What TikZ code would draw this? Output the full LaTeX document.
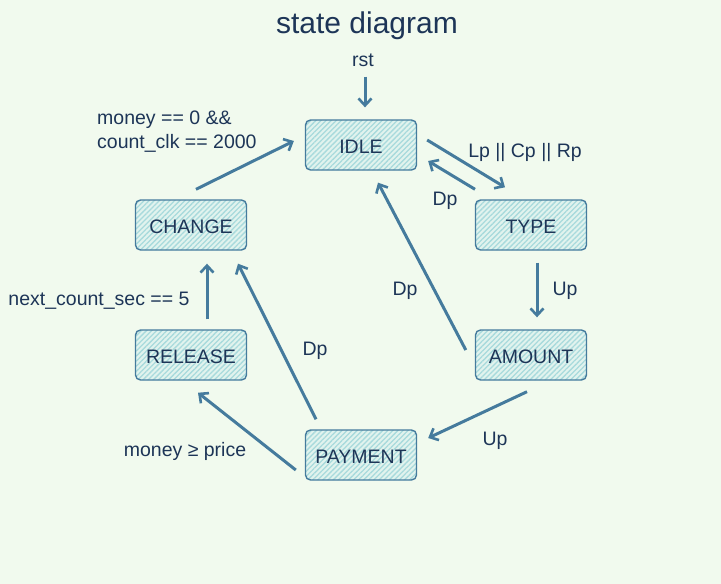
\documentclass[tikz,border=0pt]{standalone}
\usepackage{fontspec}
\setmainfont{Liberation Sans}
\usetikzlibrary{arrows.meta,patterns.meta}
\definecolor{bg}{HTML}{F1FAEE}
\definecolor{hatch}{HTML}{A8DADC}
\definecolor{edge}{HTML}{457B9D}
\definecolor{ink}{HTML}{1D3557}
\tikzset{
  state/.style={draw=edge, line width=1.4pt, rounded corners=5pt,
    minimum width=111pt, minimum height=50pt, inner sep=0pt,
    preaction={fill=bg!60!hatch!70!white},
    pattern={Lines[angle=45,distance=3.6pt,line width=1.3pt]}, pattern color=hatch},
  stxt/.style={text=ink, font=\fontsize{19.5}{22}\selectfont},
  arr/.style={draw=edge, line width=3pt, -{Straight Barb[length=7pt,width=13pt,line width=2.6pt]}},
  lbl/.style={text=ink, font=\fontsize{19.5}{24}\selectfont, inner sep=0pt},
}
\begin{document}
\begin{tikzpicture}[x=1pt,y=-1pt]
\fill[bg] (0,0) rectangle (721,584);
\useasboundingbox (0,0) rectangle (721,584);
\node[text=ink, font=\fontsize{30}{32}\selectfont] (title) at (367,26) {state diagram};
\node[lbl] (rst) at (363,60) {rst};
\node[state] (idle) at (361,145) {};
\node[stxt] at ([yshift=-2pt]idle.center) {IDLE};
\node[state] (type) at (531,225) {};
\node[stxt] at ([yshift=-2pt]type.center) {TYPE};
\node[state] (amount) at (531,355) {};
\node[stxt] at ([yshift=-2pt]amount.center) {AMOUNT};
\node[state] (payment) at (361,455) {};
\node[stxt] at ([yshift=-2pt]payment.center) {PAYMENT};
\node[state] (release) at (191,355) {};
\node[stxt] at ([yshift=-2pt]release.center) {RELEASE};
\node[state] (change) at (191,225) {};
\node[stxt] at ([yshift=-2pt]change.center) {CHANGE};

\draw[arr] ([shift={(2,10)}]rst.south) -- ([shift={(4,-12)}]idle.north);
\draw[arr] ([shift={(10,-5)}]idle.east) -- ([shift={(-26,-12)}]type.north);
\draw[arr] ([shift={(-56,-10)}]type.north) -- ([shift={(11,16)}]idle.east);
\draw[arr] ([shift={(6,12)}]type.south) -- ([shift={(6,-12)}]amount.north);
\draw[arr] ([shift={(-9,-5)}]amount.west) -- ([shift={(17,12)}]idle.south);
\draw[arr] ([shift={(-4,11)}]amount.south) -- ([shift={(11,-17)}]payment.east);
\draw[arr] ([shift={(-45,-10)}]payment.north) -- ([shift={(47,13)}]change.south);
\draw[arr] ([shift={(-9,15)}]payment.west) -- ([shift={(7,12)}]release.south);
\draw[arr] ([shift={(16,-10)}]release.north) -- ([shift={(16,13)}]change.south);
\draw[arr] ([shift={(5,-10)}]change.north) -- ([shift={(-11,-4)}]idle.west);

\node[lbl] (l1) at (525,152) {Lp || Cp || Rp};
\node[lbl] (l2) at (445,201) {Dp};
\node[lbl] (l3) at (565,291) {Up};
\node[lbl] (l4) at (405,291) {Dp};
\node[lbl] (l5) at (495,441) {Up};
\node[lbl] (l6) at (315,351) {Dp};
\node[lbl] (l7) at (185,451) {money ≥ price};
\node[lbl] (l8) at (99,301) {next\_count\_sec == 5};
\node[lbl, align=left, anchor=north west] (l9) at (97,111) {money == 0 \&\&\\count\_clk == 2000};
\end{tikzpicture}
\end{document}
